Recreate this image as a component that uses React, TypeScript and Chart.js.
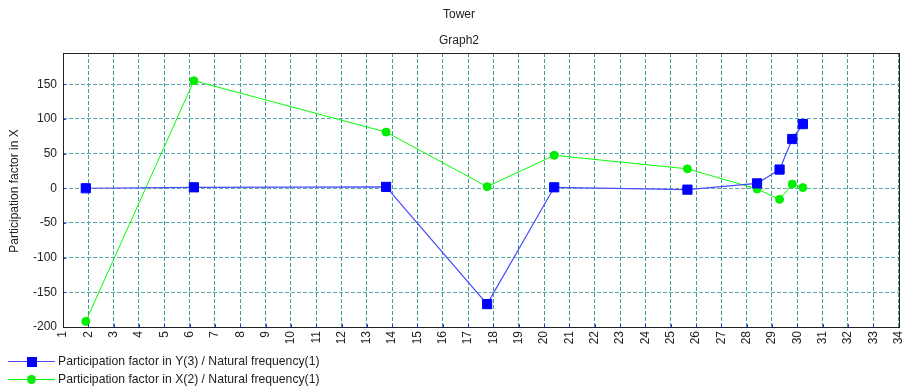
import React, { useEffect, useRef } from "react";
import { Chart, registerables } from "chart.js";

Chart.register(...registerables);

// ---- data ----
const chartTitle = "Tower";
const chartSubtitle = "Graph2";
const yAxisTitle = "Participation factor in X";
const xMin = 1;
const xMax = 34;
const yMin = -200;
const yMax = 195;
const yStep = 50;

const naturalFrequency = [1.9, 6.17, 13.76, 17.75, 20.4, 25.66, 28.41, 29.3, 29.8, 30.22];
const participationY3 = [0, 1.4, 2, -167, 1.4, -2, 7, 27, 71, 92.5];
const participationX2 = [-192, 155, 81, 2.3, 47.5, 28, -1, -16, 6, 1];

const seriesLabels = [
  "Participation factor in Y(3) / Natural frequency(1)",
  "Participation factor in X(2) / Natural frequency(1)",
];

const FONT = "'Liberation Sans', Arial, sans-serif";

const decorPlugin = {
  id: "decor",
  afterDraw(chart: any) {
    const { ctx, chartArea } = chart;
    const { left, right, top, bottom } = chartArea;
    ctx.save();
    // small blue ticks inside
    ctx.strokeStyle = "#3030ff";
    ctx.lineWidth = 1;
    const ys = chart.scales.y;
    ys.ticks.forEach((t: any) => {
      const py = Math.round(ys.getPixelForValue(t.value)) + 0.5;
      ctx.beginPath();
      ctx.moveTo(left, py);
      ctx.lineTo(left + 3, py);
      ctx.stroke();
    });
    const xs = chart.scales.x;
    xs.ticks.forEach((t: any) => {
      const px = Math.round(xs.getPixelForValue(t.value)) + 0.5;
      ctx.beginPath();
      ctx.moveTo(px, bottom);
      ctx.lineTo(px, bottom - 3);
      ctx.stroke();
    });
    // frame
    ctx.strokeStyle = "#222";
    ctx.lineWidth = 1;
    ctx.strokeRect(Math.round(left) + 0.5, Math.round(top) + 0.5, Math.round(right - left), Math.round(bottom - top));
    // titles
    ctx.fillStyle = "#222";
    ctx.font = `12px ${FONT}`;
    ctx.textAlign = "center";
    ctx.textBaseline = "middle";
    ctx.fillText(chartTitle, 459, 15);
    ctx.fillText(chartSubtitle, 459, 41);
    // y axis title
    ctx.save();
    ctx.translate(15, (top + bottom) / 2 + 1);
    ctx.rotate(-Math.PI / 2);
    ctx.fillText(yAxisTitle, 0, 0);
    ctx.restore();
    // legend
    const rows = [361, 379];
    chart.data.datasets.forEach((ds: any, i: number) => {
      const y = rows[i];
      ctx.strokeStyle = ds.borderColor;
      ctx.lineWidth = 1;
      ctx.beginPath();
      ctx.moveTo(8, y + 0.5);
      ctx.lineTo(55, y + 0.5);
      ctx.stroke();
      ctx.fillStyle = ds.pointBackgroundColor;
      if (ds.pointStyle === "rect") {
        ctx.fillRect(27, y - 4, 10, 10);
      } else {
        ctx.beginPath();
        ctx.arc(31.5, y + 0.5, 4.5, 0, Math.PI * 2);
        ctx.fill();
      }
      ctx.fillStyle = "#222";
      ctx.textAlign = "left";
      ctx.textBaseline = "middle";
      ctx.font = `12.2px ${FONT}`;
      ctx.fillText(ds.label, 58, y + 1);
    });
    ctx.restore();
  },
};

export default function App() {
  const ref = useRef<HTMLCanvasElement | null>(null);

  useEffect(() => {
    if (!ref.current) return;
    const blueData = naturalFrequency.map((x, i) => ({ x, y: participationY3[i] }));
    const greenData = naturalFrequency.map((x, i) => ({ x, y: participationX2[i] }));
    const chart = new Chart(ref.current, {
      type: "scatter",
      data: {
        datasets: [
          {
            label: seriesLabels[0],
            data: blueData,
            showLine: true,
            borderColor: "#4a4aff",
            borderWidth: 1.2,
            pointStyle: "rect",
            pointRadius: 6.5,
            pointBackgroundColor: "#0000ff",
            pointBorderColor: "#0000ff",
            pointBorderWidth: 1,
            order: 1,
          },
          {
            label: seriesLabels[1],
            data: greenData,
            showLine: true,
            borderColor: "#00ff00",
            borderWidth: 1,
            pointStyle: "circle",
            pointRadius: 4,
            pointBackgroundColor: "#00ee00",
            pointBorderColor: "#00ee00",
            pointBorderWidth: 1,
            order: 2,
          },
        ],
      },
      options: {
        animation: false,
        responsive: false,
        devicePixelRatio: 1,
        layout: { padding: { top: 53, left: 0, right: 15, bottom: 38 } },
        plugins: {
          legend: { display: false },
          tooltip: { enabled: false },
          title: { display: false },
        },
        scales: {
          x: {
            type: "linear",
            min: xMin,
            max: xMax,
            afterFit: (s: any) => {
              s.height = 22;
            },
            ticks: {
              stepSize: 1,
              minRotation: 90,
              maxRotation: 90,
              autoSkip: false,
              padding: 4,
              color: "#222",
              font: { family: FONT, size: 12 },
              includeBounds: false,
            },
            grid: { color: "#3f9f9f", drawTicks: false, lineWidth: 1 },
            border: { display: false, dash: [4, 2] },
          },
          y: {
            type: "linear",
            min: yMin,
            max: yMax,
            afterFit: (s: any) => {
              s.width = 63;
            },
            ticks: {
              stepSize: yStep,
              includeBounds: false,
              padding: 6,
              color: "#222",
              font: { family: FONT, size: 12 },
            },
            grid: { color: "#5aabab", drawTicks: false, lineWidth: 1 },
            border: { display: false, dash: [4, 2] },
          },
        },
      },
      plugins: [decorPlugin],
    });
    return () => chart.destroy();
  }, []);

  return (
    <div style={{ position: "fixed", left: 0, top: 0, width: 917, height: 387, background: "#fff" }}>
      <canvas ref={ref} width={917} height={387} style={{ display: "block" }} />
    </div>
  );
}
